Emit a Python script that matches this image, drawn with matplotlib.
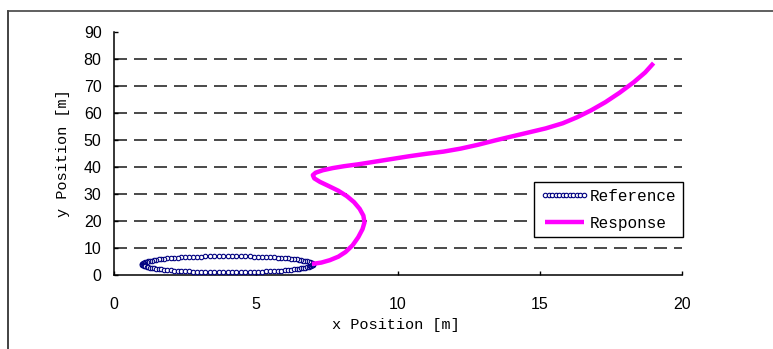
import numpy as np
import matplotlib
matplotlib.use("Agg")
import matplotlib.pyplot as plt
from matplotlib.lines import Line2D

# reference path: circle of radius 3 m round (4, 4), sampled every 3 degrees
ref_x = [7.00, 7.00, 6.98, 6.96, 6.93, 6.90, 6.85, 6.80, 6.74, 6.67,
         6.60, 6.52, 6.43, 6.33, 6.23, 6.12, 6.01, 5.89, 5.76, 5.63,
         5.50, 5.36, 5.22, 5.08, 4.93, 4.78, 4.62, 4.47, 4.31, 4.16,
         4.00, 3.84, 3.69, 3.53, 3.38, 3.22, 3.07, 2.92, 2.78, 2.64,
         2.50, 2.37, 2.24, 2.11, 1.99, 1.88, 1.77, 1.67, 1.57, 1.48,
         1.40, 1.33, 1.26, 1.20, 1.15, 1.10, 1.07, 1.04, 1.02, 1.00,
         1.00, 1.00, 1.02, 1.04, 1.07, 1.10, 1.15, 1.20, 1.26, 1.33,
         1.40, 1.48, 1.57, 1.67, 1.77, 1.88, 1.99, 2.11, 2.24, 2.37,
         2.50, 2.64, 2.78, 2.92, 3.07, 3.22, 3.38, 3.53, 3.69, 3.84,
         4.00, 4.16, 4.31, 4.47, 4.62, 4.78, 4.93, 5.08, 5.22, 5.36,
         5.50, 5.63, 5.76, 5.89, 6.01, 6.12, 6.23, 6.33, 6.43, 6.52,
         6.60, 6.67, 6.74, 6.80, 6.85, 6.90, 6.93, 6.96, 6.98, 7.00,
         7.00]
ref_y = [4.00, 4.16, 4.31, 4.47, 4.62, 4.78, 4.93, 5.08, 5.22, 5.36,
         5.50, 5.63, 5.76, 5.89, 6.01, 6.12, 6.23, 6.33, 6.43, 6.52,
         6.60, 6.67, 6.74, 6.80, 6.85, 6.90, 6.93, 6.96, 6.98, 7.00,
         7.00, 7.00, 6.98, 6.96, 6.93, 6.90, 6.85, 6.80, 6.74, 6.67,
         6.60, 6.52, 6.43, 6.33, 6.23, 6.12, 6.01, 5.89, 5.76, 5.63,
         5.50, 5.36, 5.22, 5.08, 4.93, 4.78, 4.62, 4.47, 4.31, 4.16,
         4.00, 3.84, 3.69, 3.53, 3.38, 3.22, 3.07, 2.92, 2.78, 2.64,
         2.50, 2.37, 2.24, 2.11, 1.99, 1.88, 1.77, 1.67, 1.57, 1.48,
         1.40, 1.33, 1.26, 1.20, 1.15, 1.10, 1.07, 1.04, 1.02, 1.00,
         1.00, 1.00, 1.02, 1.04, 1.07, 1.10, 1.15, 1.20, 1.26, 1.33,
         1.40, 1.48, 1.57, 1.67, 1.77, 1.88, 1.99, 2.11, 2.24, 2.37,
         2.50, 2.64, 2.78, 2.92, 3.07, 3.22, 3.38, 3.53, 3.69, 3.84,
         4.00]

# measured vehicle response
resp_x = [6.97, 7.3, 7.6, 7.9, 8.15, 8.4, 8.6, 8.75, 8.82, 8.78,
          8.65, 8.45, 8.2, 7.9, 7.55, 7.25, 7.05, 7.0, 7.1, 7.35,
          7.7, 8.1, 8.6, 9.2, 9.8, 10.4, 11.0, 11.6, 12.2, 12.8,
          13.4, 14.0, 14.6, 15.2, 15.8, 16.3, 16.8, 17.3, 17.8, 18.3,
          18.7, 19.0]
resp_y = [4.1, 4.6, 5.5, 6.8, 8.5, 11.0, 14.0, 17.0, 19.5, 22.0,
          24.5, 27.0, 29.2, 31.2, 33.0, 34.5, 35.8, 37.0, 37.9, 38.8,
          39.6, 40.3, 41.0, 42.0, 43.0, 44.0, 44.9, 45.7, 46.8, 48.2,
          49.8, 51.3, 52.8, 54.3, 56.2, 58.4, 61.0, 64.0, 67.5, 71.4,
          75.0, 78.5]

grid_y = [10, 20, 30, 40, 50, 60, 70, 80]
x_ticks = [0, 5, 10, 15, 20]
y_ticks = [0, 10, 20, 30, 40, 50, 60, 70, 80, 90]

mono = ["Liberation Mono", "DejaVu Sans Mono"]
sans = ["Liberation Sans", "DejaVu Sans"]

fig = plt.figure(figsize=(7.73, 3.49), dpi=100)
ax = fig.add_axes([0.1475, 0.212, 0.7348, 0.6963])

# dashed horizontal grid
glw = 1.3
ax.hlines(grid_y, 0, 20, colors="#3a3a3a", linewidth=glw,
          linestyles=[(0, (13 * 0.72 / glw, 7 * 0.72 / glw))], zorder=1)

ax.plot(ref_x, ref_y, color="#000080", lw=0.8, marker="o", markersize=3.2,
        mfc="white", mec="#000080", mew=0.8, label="Reference", zorder=3)
ax.plot(resp_x, resp_y, color="#ff00ff", lw=3.2, solid_capstyle="butt",
        solid_joinstyle="round", label="Response", zorder=4)

ax.set_xlim(0, 20)
ax.set_ylim(0, 90)
ax.set_xticks(x_ticks)
ax.set_yticks(y_ticks)
for s in ["top", "right"]:
    ax.spines[s].set_visible(False)
for s in ["left", "bottom"]:
    ax.spines[s].set_linewidth(1.1)
    ax.spines[s].set_color("black")
ax.tick_params(direction="in", length=3, width=1, labelsize=11.5)
ax.tick_params(axis="y", pad=9)
ax.tick_params(axis="x", pad=16)
for lab in ax.get_xticklabels() + ax.get_yticklabels():
    lab.set_family(sans)

ax.set_xlabel("x Position [m]", family=mono, fontsize=11)
ax.set_ylabel("y Position [m]", family=mono, fontsize=11)
ax.xaxis.set_label_coords(0.496, -0.175)
ax.yaxis.set_label_coords(-0.077, 0.5)

leg = ax.legend(loc="upper right", bbox_to_anchor=(1.002, 0.382),
                prop={"family": mono, "size": 11.5}, frameon=True,
                fancybox=False, edgecolor="black", framealpha=1,
                numpoints=12, handlelength=3.0, handletextpad=0.1,
                borderpad=0.4, labelspacing=0.75, borderaxespad=0)
leg.get_frame().set_linewidth(1.0)
leg.set_zorder(5)

# outer frame on the left and top edges
fig.add_artist(Line2D([8 / 773, 8 / 773], [0, 1 - 11 / 349],
                      transform=fig.transFigure, color="#222222", lw=1.2))
fig.add_artist(Line2D([8 / 773, 1], [1 - 11 / 349, 1 - 11 / 349],
                      transform=fig.transFigure, color="#444444", lw=1.2))

fig.savefig("out.png", dpi=100)
